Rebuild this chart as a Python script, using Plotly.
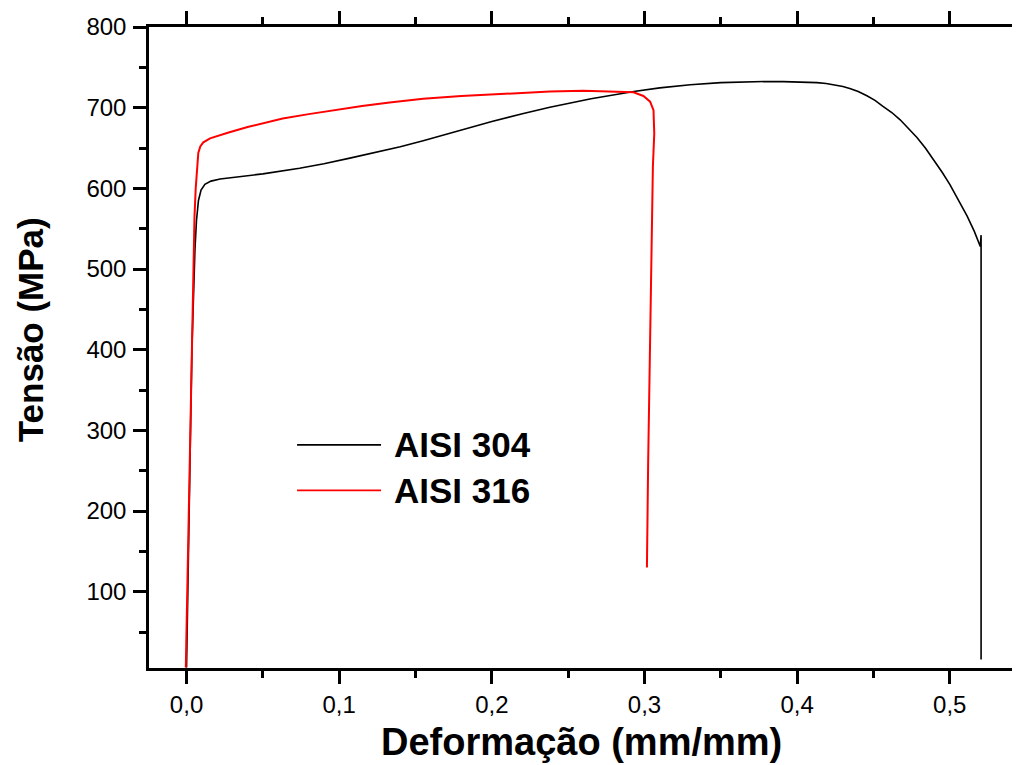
import plotly.graph_objects as go

# AISI 304 (black)
x304 = [0.0, 0.0015, 0.0035, 0.0055, 0.0065, 0.0078, 0.0095, 0.012, 0.016, 0.022, 0.030, 0.050,
        0.074, 0.090, 0.107, 0.125, 0.140, 0.155, 0.170, 0.185, 0.200, 0.220, 0.238, 0.265,
        0.293, 0.310, 0.330, 0.350, 0.369, 0.380, 0.391, 0.405, 0.413, 0.419, 0.424, 0.430,
        0.435, 0.440, 0.4457, 0.451, 0.456, 0.462, 0.4675, 0.473, 0.4785, 0.484, 0.4894,
        0.495, 0.500, 0.506, 0.5113, 0.516, 0.520, 0.5205, 0.5205, 0.5205]
y304 = [6, 200, 400, 524, 560, 585, 598, 605, 609, 611.5, 613.5, 618,
        625, 630.5, 637.5, 645, 651.5, 659, 667, 675, 683, 692.5, 700.5, 711,
        720, 724.5, 728.5, 731, 732.3, 732.5, 732.3, 731.8, 731.0, 729.9, 728.6, 726.3,
        723.6, 720.0, 714.8, 709.0, 702.0, 694.0, 685.0, 674.5, 663.0, 650.0, 636.0,
        620.0, 605.0, 585.0, 566.0, 547.0, 528, 542, 514, 16]

# AISI 316 (red)
x316 = [-0.0005, 0.0014, 0.0033, 0.0045, 0.0052, 0.0060, 0.0068, 0.0077, 0.0090, 0.011, 0.0154,
        0.020, 0.027, 0.040, 0.063, 0.080, 0.096, 0.115, 0.133, 0.155, 0.180, 0.210, 0.238,
        0.260, 0.282, 0.2928, 0.2993, 0.3037, 0.3059, 0.3064, 0.3055, 0.3049, 0.3037, 0.3024,
        0.3016]
y316 = [6, 200, 400, 524, 565, 600, 628, 644, 652, 657, 662,
        665, 669, 676, 686.5, 692, 697, 702, 706.5, 711, 714.5, 717.5, 720,
        721, 720, 719, 714.5, 707.5, 697, 668, 627, 565, 404, 260,
        130]

names = ["AISI 304", "AISI 316"]
colors = ["#000000", "#ff0000"]

FONT = "Liberation Sans, Arial, Helvetica, sans-serif"

fig = go.Figure()
fig.add_trace(go.Scatter(x=x304, y=y304, mode="lines", name=names[0],
                         line=dict(color=colors[0], width=1.6), showlegend=False))
fig.add_trace(go.Scatter(x=x316, y=y316, mode="lines", name=names[1],
                         line=dict(color=colors[1], width=2), showlegend=False))

axis_common = dict(
    showgrid=False, zeroline=False, showline=True, linecolor="black", linewidth=2.5,
    ticks="outside", ticklen=13, tickwidth=2.5, tickcolor="black",
    tickfont=dict(family=FONT, size=24, color="black"),
)

fig.update_xaxes(range=[-0.0246, 0.546], dtick=0.1, tick0=0, tickformat=".1f",
                 mirror="ticks",
                 minor=dict(dtick=0.05, ticklen=7, tickwidth=2.5, tickcolor="black", ticks="outside"),
                 ticklabelstandoff=0, **axis_common)
fig.update_yaxes(range=[5.5, 800], dtick=100, tick0=0,
                 minor=dict(dtick=50, ticklen=7, tickwidth=2.5, tickcolor="black", ticks="outside"),
                 ticklabelstandoff=2, **axis_common)

annotations = [
    dict(text="<b>Deformação (mm/mm)</b>", xref="paper", yref="paper", x=0.497, y=0,
         xanchor="center", yanchor="middle", yshift=-74, showarrow=False,
         font=dict(family=FONT, size=38, color="black")),
    dict(text="<b>Tensão (MPa)</b>", xref="paper", yref="paper", x=0, y=0.527,
         xanchor="center", yanchor="middle", xshift=-119, textangle=-90, showarrow=False,
         font=dict(family=FONT, size=35, color="black")),
]
shapes = []
leg_y = [0.348, 0.277]
for name, col, ly in zip(names, colors, leg_y):
    shapes.append(dict(type="line", xref="paper", yref="paper", x0=0.170, x1=0.2664,
                       y0=ly, y1=ly, line=dict(color=col, width=1.8)))
    annotations.append(dict(text="<b>%s</b>" % name, xref="paper", yref="paper", x=0.279, y=ly,
                            xanchor="left", yanchor="middle", showarrow=False,
                            font=dict(family=FONT, size=35, color="black")))

fig.update_layout(
    width=1012, height=757,
    margin=dict(l=141, r=0, t=19, b=97),
    paper_bgcolor="white", plot_bgcolor="white",
    separators=", ",
    annotations=annotations, shapes=shapes,
    showlegend=False,
)

fig.write_html("out.html")
